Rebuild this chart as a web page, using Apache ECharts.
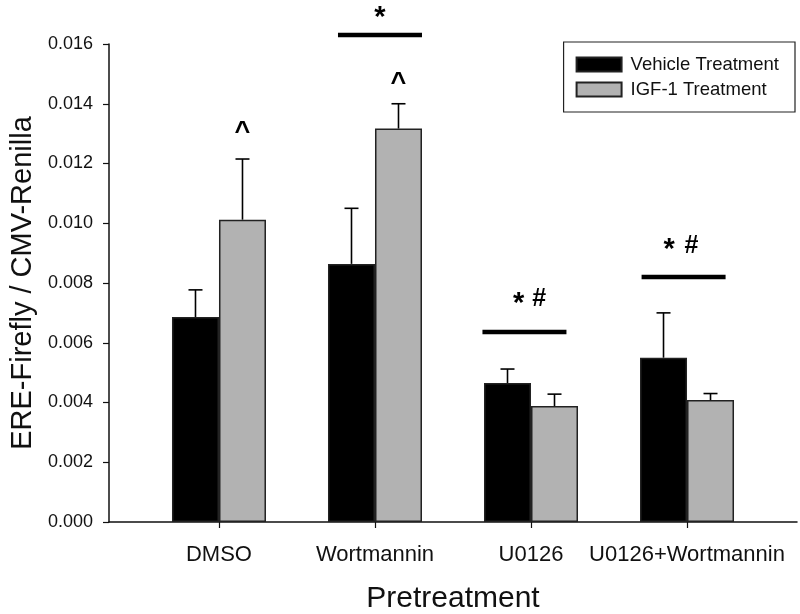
<!DOCTYPE html>
<html>
<head>
<meta charset="utf-8">
<script src="https://cdn.jsdelivr.net/npm/echarts@6/dist/echarts.min.js"></script>
<style>
html,body{margin:0;padding:0;background:#fff;}
#chart{width:800px;height:614px;}
</style>
</head>
<body>
<div id="chart"></div>
<script>
// ---- data ----
const categories = ['DMSO', 'Wortmannin', 'U0126', 'U0126+Wortmannin'];
const vehicle = [0.00686, 0.00864, 0.00465, 0.00550];
const vehicleErr = [0.00091, 0.00186, 0.00047, 0.00150];
const igf = [0.01012, 0.01317, 0.00388, 0.00408];
const igfErr = [0.00203, 0.00083, 0.00040, 0.00022];
// annotations above IGF-1 bars: category index, symbol, level
const caretMarks = [
  { cat: 0, label: '^', y: 0.01305 },
  { cat: 1, label: '^', y: 0.01468 }
];
// group significance bars: line centre (axis units), line level, symbols with their x / level
const lineMarks = [
  { x: 2.032, y: 0.01630 },
  { x: 2.958, y: 0.00636 },
  { x: 3.978, y: 0.00820 }
];
const symbolMarks = [
  { x: 2.032, y: 0.01687, label: '*' },
  { x: 2.920, y: 0.00731, label: '*' },
  { x: 3.053, y: 0.00745, label: '#' },
  { x: 3.885, y: 0.00910, label: '*' },
  { x: 4.028, y: 0.00923, label: '#' }
];

const FONT = '"Liberation Sans", Arial, sans-serif';
const BAR_W = 47;

const chart = echarts.init(document.getElementById('chart'), null, { renderer: 'canvas' });

const pos = categories.map((c, i) => i + 1);

function errItem(params, api) {
  const x = api.value(0), v = api.value(1), e = api.value(2), side = api.value(3);
  const p = api.coord([x, v]);
  const q = api.coord([x, v + e]);
  const cx = p[0] + side * BAR_W / 2;
  const st = { stroke: '#000', lineWidth: 1.6 };
  return {
    type: 'group',
    children: [
      { type: 'line', shape: { x1: cx, y1: p[1], x2: cx, y2: q[1] }, style: st },
      { type: 'line', shape: { x1: cx - 7, y1: q[1], x2: cx + 7, y2: q[1] }, style: st }
    ]
  };
}

const errData = [];
vehicle.forEach((v, i) => errData.push([pos[i], v, vehicleErr[i], -1]));
igf.forEach((v, i) => errData.push([pos[i], v, igfErr[i], 1]));

const caretData = caretMarks.map(m => [pos[m.cat], m.y]);
const lineData = lineMarks.map(m => [m.x, m.y]);
const symData = symbolMarks.map((m, i) => [m.x, m.y, i]);

chart.setOption({
  animation: false,
  backgroundColor: '#fff',
  textStyle: { fontFamily: FONT },
  grid: { left: 109, right: 3, top: 44, bottom: 92, containLabel: false, outerBoundsMode: 'none' },
  legend: {
    orient: 'vertical',
    right: 5,
    top: 42,
    borderColor: '#222',
    borderWidth: 1.2,
    padding: [13, 16, 13, 12],
    itemGap: 6,
    itemWidth: 45,
    itemHeight: 14,
    icon: 'rect',
    textStyle: { fontFamily: FONT, fontSize: 18.5, color: '#111', padding: [0, 0, 0, 4] },
    data: ['Vehicle Treatment', 'IGF-1 Treatment']
  },
  xAxis: {
    type: 'value',
    min: 0.295,
    max: 4.705,
    name: 'Pretreatment',
    nameLocation: 'middle',
    nameGap: 62,
    nameTextStyle: { fontFamily: FONT, fontSize: 30, color: '#111' },
    axisLine: { lineStyle: { color: '#111', width: 1.5 } },
    axisTick: { show: true, length: 6, customValues: pos, lineStyle: { color: '#111', width: 1.2 } },
    axisLabel: {
      customValues: pos,
      margin: 22,
      fontFamily: FONT, fontSize: 22, color: '#111',
      formatter: v => categories[Math.round(v) - 1] || ''
    },
    splitLine: { show: false }
  },
  yAxis: {
    type: 'value',
    min: 0,
    max: 0.016,
    interval: 0.002,
    name: 'ERE-Firefly / CMV-Renilla',
    nameLocation: 'middle',
    nameGap: 72,
    nameTextStyle: { fontFamily: FONT, fontSize: 29, color: '#111' },
    axisLine: { show: true, lineStyle: { color: '#111', width: 1.5 } },
    axisTick: { show: true, length: 6, lineStyle: { color: '#111', width: 1.2 } },
    axisLabel: {
      margin: 16,
      fontFamily: FONT, fontSize: 18, color: '#111',
      formatter: v => v.toFixed(3)
    },
    splitLine: { show: false }
  },
  series: [
    {
      name: 'Vehicle Treatment',
      type: 'bar',
      barWidth: BAR_W,
      barGap: '0%',
      itemStyle: { color: '#000', borderColor: '#222', borderWidth: 1.5 },
      data: vehicle.map((v, i) => [pos[i], v])
    },
    {
      name: 'IGF-1 Treatment',
      type: 'bar',
      barWidth: BAR_W,
      barGap: '0%',
      itemStyle: { color: '#b2b2b2', borderColor: '#222', borderWidth: 1.5 },
      data: igf.map((v, i) => [pos[i], v])
    },
    {
      type: 'custom',
      name: 'err',
      renderItem: errItem,
      data: errData,
      z: 5,
      clip: false,
      silent: true
    },
    {
      type: 'custom',
      name: 'caret',
      renderItem: (params, api) => {
        const p = api.coord([api.value(0), api.value(1)]);
        return {
          type: 'text',
          x: p[0] + BAR_W / 2, y: p[1],
          style: { text: caretMarks[params.dataIndex].label, font: 'bold 27px ' + FONT, fill: '#000', align: 'center', verticalAlign: 'middle' }
        };
      },
      data: caretData,
      clip: false,
      silent: true,
      z: 6
    },
    {
      type: 'custom',
      name: 'lines',
      renderItem: (params, api) => {
        const p = api.coord([api.value(0), api.value(1)]);
        return {
          type: 'line',
          shape: { x1: p[0] - 42, y1: p[1], x2: p[0] + 42, y2: p[1] },
          style: { stroke: '#000', lineWidth: 4.5 }
        };
      },
      data: lineData,
      clip: false,
      silent: true,
      z: 6
    },
    {
      type: 'custom',
      name: 'symbols',
      renderItem: (params, api) => {
        const p = api.coord([api.value(0), api.value(1)]);
        const lab = symbolMarks[params.dataIndex].label;
        const font = lab === '*' ? 'bold 29px ' + FONT : 'bold 25px ' + FONT;
        return {
          type: 'text',
          x: p[0], y: p[1],
          style: { text: lab, font: font, fill: '#000', align: 'center', verticalAlign: 'middle' }
        };
      },
      data: symData,
      clip: false,
      silent: true,
      z: 6
    }
  ]
});
</script>
</body>
</html>
